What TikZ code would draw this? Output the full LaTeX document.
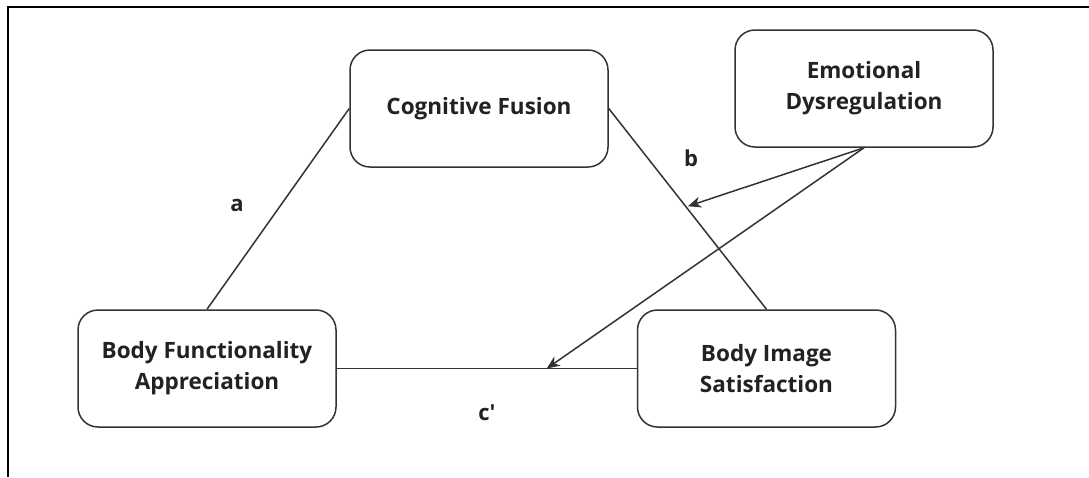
\documentclass[tikz,border=0pt]{standalone}
\usepackage{fontspec}
\setmainfont{Open Sans}
\usetikzlibrary{arrows.meta,calc}
\definecolor{ink}{HTML}{333333}
\definecolor{txt}{HTML}{222222}
\tikzset{
  box/.style={draw=ink, line width=1.5pt, rounded corners=20pt, minimum width=258pt, minimum height=117pt, align=center, text=txt, font=\fontsize{22.5}{31}\selectfont\bfseries, inner sep=0pt},
  conn/.style={draw=ink, line width=1.5pt},
  arr/.style={draw=ink, line width=1.5pt, -{Stealth[length=13pt,width=11pt,inset=4pt]}},
  lbl/.style={text=txt, font=\fontsize{22}{26}\selectfont\bfseries, inner sep=0pt}
}
\begin{document}
\begin{tikzpicture}[x=1pt,y=-1pt]
\useasboundingbox (0,0) rectangle (1089,477);
\fill[white] (0,0) rectangle (1089,477);
\draw[black, line width=2.5pt] (8,477) -- (8,7) -- (1089,7);
\node[box] (CF) at (479,108.5) {Cognitive Fusion};
\node[box] (ED) at (864,88.5) {Emotional\\Dysregulation};
\node[box] (BF) at (207,368.5) {Body Functionality\\Appreciation};
\node[box] (BI) at (766.5,368.5) {Body Image\\Satisfaction};
\draw[conn] (BF.north) -- (CF.west);
\draw[conn] (CF.east) -- (BI.north);
\draw[conn] (BF.east) -- (BI.west);
\coordinate (bpt) at ($(CF.east)!0.49!(BI.north)$);
\coordinate (cpt) at ($(BF.east)!0.70!(BI.west)$);
\draw[arr, shorten >=2pt] (ED.south) -- (bpt);
\draw[arr] (ED.south) -- (cpt);
\node[lbl] (la) at (237,205) {a};
\node[lbl] (lb) at (691,158) {b};
\node[lbl] (lc) at (487,413) {c\textquotesingle};
\end{tikzpicture}
\end{document}
